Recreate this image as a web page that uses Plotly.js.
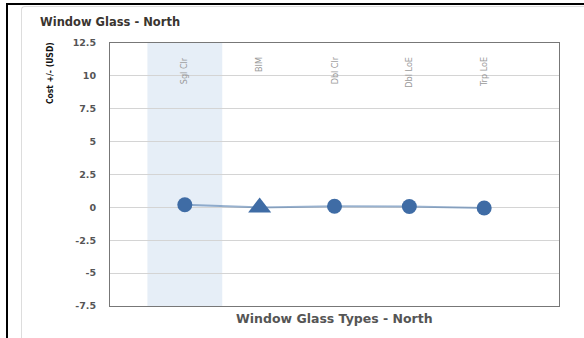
<!DOCTYPE html>
<html>
<head>
<meta charset="utf-8">
<script src="https://cdn.plot.ly/plotly-3.0.1.min.js"></script>
<style>
  html, body { margin: 0; padding: 0; background: #fff; }
  #wrap { position: relative; width: 584px; height: 338px; overflow: hidden; }
  #frame { position: absolute; left: 6px; top: 3px; width: 600px; height: 400px;
           border-top: 2px solid #000; border-left: 2px solid #000; }
  #panel { position: absolute; left: 21px; top: 6px; width: 600px; height: 400px;
           border-top: 1px solid #ddd; border-left: 1px solid #ddd; border-top-left-radius: 4px; }
  #chart { position: absolute; left: 0; top: 0; width: 584px; height: 338px; }
</style>
</head>
<body>
<div id="wrap">
  <div id="frame"></div>
  <div id="panel"></div>
  <div id="chart"></div>
</div>
<script>
const categories = ["Sgl Clr", "BIM", "Dbl Clr", "Dbl LoE", "Trp LoE"];
const costValues = [0.2, 0.0, 0.08, 0.07, -0.05];
const markerSymbols = ["circle", "triangle-up", "circle", "circle", "circle"];
const markerSizes = [15, 20, 15, 15, 15];
const yTicks = [-7.5, -5, -2.5, 0, 2.5, 5, 7.5, 10, 12.5];
const highlighted = "Sgl Clr";

const xIdx = categories.map((c, i) => i);
const hi = categories.indexOf(highlighted);

const trace = {
  x: xIdx,
  y: costValues,
  type: "scatter",
  mode: "lines+markers",
  line: { color: "rgba(69,114,167,0.55)", width: 2 },
  marker: { color: "#3f6ca5", opacity: 1, symbol: markerSymbols, size: markerSizes, line: { width: 0 } },
  hoverinfo: "skip",
  cliponaxis: false
};

const condensed = "DejaVu Sans Condensed, Liberation Sans Narrow, Arial Narrow, sans-serif";
const wide = "DejaVu Sans, Verdana, sans-serif";
const catFont = { family: condensed, size: 9, color: "#9a9a9a" };
const annotations = categories.map((c, i) => ({
  text: c, x: i, xref: "x", y: 0.955, yref: "paper",
  textangle: -90, xanchor: "center", yanchor: "top", showarrow: false, font: catFont
}));
annotations.push({
  text: "<b>Window Glass Types - North</b>", xref: "paper", yref: "paper",
  x: 0.501, y: -0.049, xanchor: "center", yanchor: "middle", showarrow: false,
  font: { family: wide, size: 12.5, color: "#555" }
});
annotations.push({
  text: "<b>Cost +/- (USD)</b>", xref: "paper", yref: "paper",
  x: -0.132, y: 1.01, xanchor: "center", yanchor: "top", textangle: -90, showarrow: false,
  font: { family: condensed, size: 8.5, color: "#111" }
});

const layout = {
  width: 584, height: 338,
  margin: { l: 110, r: 25, t: 43, b: 32, pad: 0 },
  paper_bgcolor: "rgba(0,0,0,0)",
  plot_bgcolor: "rgba(0,0,0,0)",
  showlegend: false,
  title: {
    text: "<b>Window Glass - North</b>",
    xref: "container", x: 40 / 584, xanchor: "left",
    yref: "container", y: 1 - 22 / 338, yanchor: "middle",
    font: { family: wide, size: 11.5, color: "#3a3530" }
  },
  xaxis: {
    range: [-1, 5], showticklabels: false, showgrid: false, zeroline: false,
    showline: true, mirror: true, linecolor: "#777", linewidth: 1, fixedrange: true
  },
  yaxis: {
    range: [-7.5, 12.5], tickvals: yTicks, ticktext: yTicks.map(String),
    showgrid: true, gridcolor: "#d4d4d4", gridwidth: 1, zeroline: false,
    showline: true, mirror: true, linecolor: "#777", linewidth: 1,
    ticks: "", ticklabelstandoff: 11,
    tickfont: { family: wide, size: 9.5, color: "#555", weight: "bold" },
    fixedrange: true
  },
  shapes: [{
    type: "rect", xref: "x", yref: "paper", x0: hi - 0.5, x1: hi + 0.5, y0: 0, y1: 1,
    fillcolor: "#e6eef7", line: { width: 0 }, layer: "below"
  }],
  annotations: annotations
};

Plotly.newPlot("chart", [trace], layout, { displayModeBar: false, staticPlot: true });
</script>
</body>
</html>
